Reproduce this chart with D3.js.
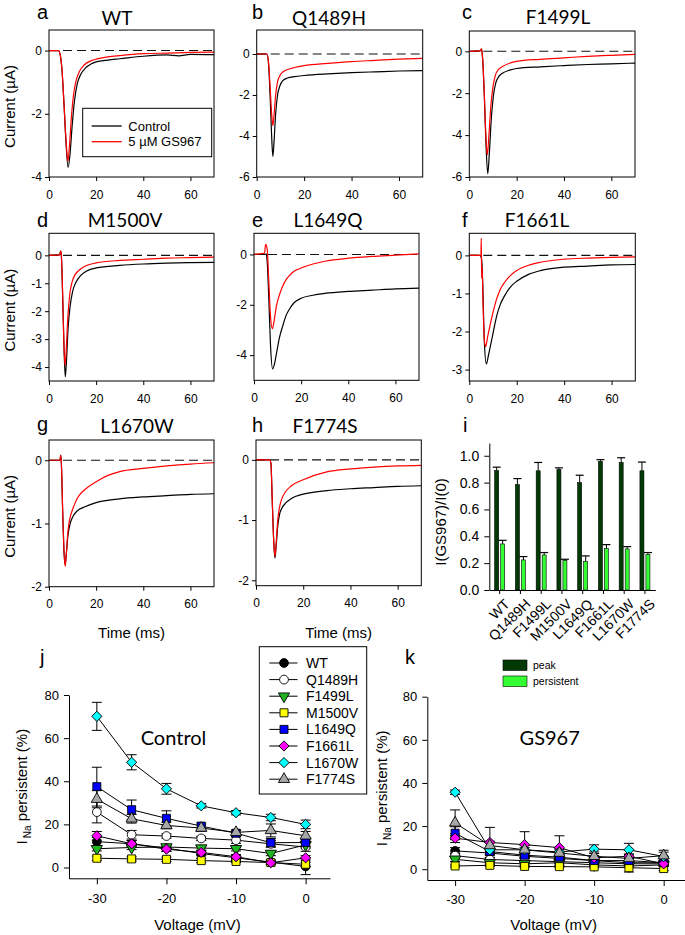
<!DOCTYPE html>
<html><head><meta charset="utf-8">
<script src="https://cdn.jsdelivr.net/npm/d3@7"></script>
<style>body{margin:0;background:#fff}svg{display:block}</style>
</head><body>
<svg id="fig" width="685" height="935"></svg>
<script>
// ---------------- DATA ----------------
const timeTicks = [0, 20, 40, 60];
// current traces [time ms, current µA]
const wtCtrl = [[0,0],[4,0],[4.8,-0.15],[5.5,-0.6],[6.3,-1.6],[7.2,-2.9],[8.1,-3.7],[8.9,-3.3],[9.8,-2.4],[10.8,-1.6],[12,-1.05],[13.5,-0.75],[15.5,-0.55],[18,-0.42],[20,-0.36],[25,-0.3],[30,-0.26],[40,-0.18],[50,-0.14],[55,-0.17],[60,-0.12],[70,-0.13]];
const wtGS = [[0,0],[4,0],[4.8,-0.15],[5.5,-0.6],[6.3,-1.6],[7.2,-2.8],[8,-3.5],[8.7,-3.0],[9.5,-2.1],[10.5,-1.35],[11.5,-0.95],[13,-0.65],[15,-0.45],[18,-0.32],[20,-0.27],[25,-0.2],[30,-0.16],[40,-0.1],[50,-0.08],[60,-0.06],[70,-0.05]];
const q1489hCtrl = [[0,0],[4.3,0],[5,-0.5],[5.7,-2.2],[6.3,-4.0],[6.8,-5.0],[7.3,-4.3],[8,-2.9],[8.8,-2.0],[9.8,-1.55],[11,-1.3],[13,-1.17],[16,-1.1],[20,-1.05],[30,-0.97],[40,-0.91],[50,-0.87],[60,-0.83],[70,-0.81]];
const q1489hGS = [[0,0],[4.3,0],[5,-0.4],[5.7,-1.7],[6.3,-2.9],[6.8,-3.5],[7.3,-3.0],[8,-2.0],[8.8,-1.35],[9.8,-1.05],[11,-0.88],[13,-0.76],[16,-0.66],[20,-0.57],[30,-0.46],[40,-0.37],[50,-0.31],[60,-0.25],[70,-0.21]];
const f1499lCtrl = [[0,0],[4.5,0.02],[5.2,0.1],[5.6,-0.3],[6.3,-2.0],[7.0,-4.3],[7.8,-5.85],[8.5,-4.8],[9.3,-3.2],[10.2,-2.1],[11.2,-1.5],[12.5,-1.2],[14,-1.05],[17,-0.9],[20,-0.82],[30,-0.74],[40,-0.68],[50,-0.63],[60,-0.6],[70,-0.56]];
const f1499lGS = [[0,0],[4.5,0.02],[5.2,0.12],[5.6,-0.3],[6.3,-1.9],[7.0,-4.0],[7.6,-4.95],[8.3,-4.0],[9.1,-2.6],[10.0,-1.7],[11.0,-1.15],[12.5,-0.85],[14,-0.73],[17,-0.57],[20,-0.48],[30,-0.38],[40,-0.31],[50,-0.24],[60,-0.19],[70,-0.15]];
const m1500vCtrl = [[0,0],[4.5,0.02],[5.0,0.15],[5.3,-0.1],[5.8,-1.5],[6.4,-3.4],[6.9,-4.35],[7.4,-3.8],[8.1,-2.6],[9,-1.8],[10,-1.3],[11.5,-0.95],[13.5,-0.72],[16,-0.56],[20,-0.45],[30,-0.36],[40,-0.31],[50,-0.28],[60,-0.26],[70,-0.25]];
const m1500vGS = [[0,0],[4.5,0.02],[5.0,0.15],[5.3,-0.1],[5.8,-1.4],[6.3,-3.1],[6.8,-3.95],[7.3,-3.4],[8.0,-2.2],[8.8,-1.4],[9.8,-0.95],[11,-0.7],[12.5,-0.55],[15,-0.4],[20,-0.27],[30,-0.18],[40,-0.14],[50,-0.1],[60,-0.08],[70,-0.06]];
const l1649qCtrl = [[0,0],[4.5,0],[5.2,0.02],[5.6,-0.3],[6.3,-1.8],[7.0,-3.6],[7.9,-4.55],[8.7,-4.35],[9.5,-3.95],[10.8,-3.3],[12.2,-2.84],[13.5,-2.45],[15,-2.18],[17,-1.92],[20,-1.74],[25,-1.62],[30,-1.55],[40,-1.47],[50,-1.42],[60,-1.37],[70,-1.34]];
const l1649qGS = [[0,0],[4.5,0.05],[4.9,0.4],[5.3,0.35],[5.7,0.1],[6.2,-0.9],[6.9,-2.3],[7.8,-2.95],[8.6,-2.6],[9.5,-2.05],[10.8,-1.6],[12.2,-1.25],[13.5,-1.02],[15,-0.84],[17,-0.67],[20,-0.54],[25,-0.38],[30,-0.27],[40,-0.15],[50,-0.08],[60,-0.03],[70,0.02]];
const f1661lCtrl = [[0,0],[4.5,0],[5.2,-0.1],[5.7,-0.8],[6.3,-2.2],[7.2,-2.85],[8.0,-2.65],[9,-2.35],[10,-2.05],[11.5,-1.6],[13,-1.3],[15,-1.05],[17.5,-0.82],[20,-0.68],[25,-0.5],[30,-0.4],[40,-0.31],[50,-0.28],[60,-0.25],[70,-0.24]];
const f1661lGS = [[0,0],[4.9,0],[5.05,0.45],[5.2,-0.6],[5.4,-0.3],[5.8,-1.3],[6.4,-2.25],[6.9,-2.4],[7.7,-2.15],[8.7,-1.85],[10,-1.5],[11.5,-1.15],[13,-0.9],[15,-0.7],[17.5,-0.52],[20,-0.4],[25,-0.26],[30,-0.18],[40,-0.1],[50,-0.07],[60,-0.05],[70,-0.04]];
const l1670wCtrl = [[0,0],[4.6,0],[5.0,0.08],[5.3,-0.1],[5.8,-0.8],[6.3,-1.4],[6.8,-1.65],[7.3,-1.5],[8,-1.2],[9,-1.0],[10,-0.9],[12,-0.8],[15,-0.74],[20,-0.67],[30,-0.61],[40,-0.58],[50,-0.56],[60,-0.54],[70,-0.53]];
const l1670wGS = [[0,0],[4.6,0],[5.0,0.08],[5.3,-0.1],[5.8,-0.8],[6.4,-1.45],[6.9,-1.68],[7.4,-1.45],[8.1,-1.1],[9,-0.9],[10,-0.78],[12,-0.6],[15,-0.47],[20,-0.34],[25,-0.24],[30,-0.18],[40,-0.13],[50,-0.09],[60,-0.06],[70,-0.04]];
const f1774sCtrl = [[0,0],[5.8,0],[6.3,-0.05],[6.9,-0.7],[7.5,-1.35],[8.0,-1.63],[8.5,-1.45],[9.2,-1.1],[10,-0.9],[11,-0.8],[12.5,-0.72],[15,-0.64],[20,-0.57],[30,-0.51],[40,-0.48],[50,-0.46],[60,-0.44],[70,-0.43]];
const f1774sGS = [[0,0],[5.8,0],[6.3,-0.05],[6.9,-0.7],[7.5,-1.35],[8.0,-1.6],[8.5,-1.4],[9.2,-1.0],[10,-0.78],[11,-0.64],[12.5,-0.53],[15,-0.43],[20,-0.33],[30,-0.2],[40,-0.15],[50,-0.12],[60,-0.1],[70,-0.09]];

// panel i
const mutants = ["WT","Q1489H","F1499L","M1500V","L1649Q","F1661L","L1670W","F1774S"];
const peakRatio = [0.89,0.785,0.888,0.898,0.80,0.958,0.95,0.888];
const peakErr = [0.025,0.045,0.062,0.012,0.055,0.013,0.035,0.065];
const persistRatio = [0.343,0.224,0.261,0.221,0.211,0.308,0.306,0.264];
const persistErr = [0.027,0.025,0.018,0.008,0.043,0.03,0.017,0.015];
const ratioTicks = [0,0.2,0.4,0.6,0.8,1.0];

// panels j, k
const voltages = [-30,-25,-20,-15,-10,-5,0];
const voltTicks = [-30,-20,-10,0];
const pctTicks = [0,20,40,60,80];
const ctrlWT = [12,11,9,6.5,4.5,2.5,0.5];          const ctrlWTErr = [2,1.5,1.5,1,1,1,3.8];
const ctrlQ1489H = [25.7,15.2,14.6,13.5,12.7,11,9.5]; const ctrlQ1489HErr = [5,2,1,1,1.5,1.5,2];
const ctrlF1499L = [8.7,9.3,9.5,9.0,8.7,6.5,10.5];  const ctrlF1499LErr = [1,1,1,1,1,1,1.5];
const ctrlM1500V = [4.3,4.0,3.8,3.2,2.8,2.3,1.5];   const ctrlM1500VErr = [1,1,1,1,0.5,0.5,1];
const ctrlL1649Q = [37.5,26.8,22.8,19.2,15.9,11.5,11.6]; const ctrlL1649QErr = [9,4.5,3.5,1.5,1.5,2,2];
const ctrlF1661L = [14.7,11,8.5,7,5,2.2,4.5];      const ctrlF1661LErr = [2,1.5,1,1,1,1,1];
const ctrlL1670W = [70.1,48.8,36.5,28.6,25.4,23.2,20]; const ctrlL1670WErr = [6.5,3.5,2.5,1,1,1.5,2];
const ctrlF1774S = [31.7,22.6,19.5,18.3,16.3,17.2,14.7]; const ctrlF1774SErr = [4,2,1.5,1.5,1,3,2];
const gsWT = [8.5,7.5,6,5,4,3,3];          const gsWTErr = [1.5,1,1,1,1,1,1];
const gsQ1489H = [6.3,4.5,4,3.5,3,2.5,2.5]; const gsQ1489HErr = [1,1,1,1,1,1,1];
const gsF1499L = [4.6,3,2.5,3,2,1.5,2];    const gsF1499LErr = [1,0.5,0.5,0.5,0.5,0.5,0.5];
const gsM1500V = [1.5,1.8,1.3,1.2,1.1,0.7,0.3]; const gsM1500VErr = [0.5,0.5,0.5,0.5,0.5,2,1];
const gsL1649Q = [16.7,8.2,6.5,5.6,4,4,3];  const gsL1649QErr = [3,1.5,1,1,1,1,1];
const gsF1661L = [14.4,12.4,11.4,10,5.3,6,2.5]; const gsF1661LErr = [2,7,6,5.5,1,1,1];
const gsL1670W = [35.7,9,9,8,9.3,9,5.9];    const gsL1670WErr = [1,1,1,1,2,3,2];
const gsF1774S = [21.5,11,9,7.5,6,5,6.3];   const gsF1774SErr = [6,2,2,2,2,2,2.5];

// ---------------- DRAWING ----------------
const svg = d3.select('#fig');
svg.append('rect').attr('width',685).attr('height',935).attr('fill','#fff');
const FONT = "'Liberation Sans', Arial, sans-serif";
const TFONT = "Lato, 'Open Sans', sans-serif";
const hy = d => String(d);

function styleAxis(a, size){
  a.select('.domain').attr('stroke','#000');
  a.selectAll('line').attr('stroke','#000');
  a.selectAll('text').attr('font-family',FONT).attr('font-size',size).attr('fill','#000');
}
function letter(x, y, t){
  svg.append('text').attr('x',x).attr('y',y).attr('font-family',FONT).attr('font-size',20).text(t);
}

const timePanels = [
  {L:'a', title:'WT', ctrl:wtCtrl, gs:wtGS, box:[49,30,214,177], yDom:[-4,0.65], ticks:[-4,-2,0], lx:37, ly:18.5, ty:25, tx:117, ylab:true},
  {L:'b', title:'Q1489H', ctrl:q1489hCtrl, gs:q1489hGS, box:[256.7,30,422.7,177], yDom:[-6,1.17], ticks:[-6,-4,-2,0], lx:252, ly:18.5, ty:25, tx:329},
  {L:'c', title:'F1499L', ctrl:f1499lCtrl, gs:f1499lGS, box:[469.3,31,635,177], yDom:[-6,0.97], ticks:[-6,-4,-2,0], lx:462, ly:18.5, ty:24, tx:558},
  {L:'d', title:'M1500V', ctrl:m1500vCtrl, gs:m1500vGS, box:[49,233.3,214,381], yDom:[-4.5,0.79], ticks:[-4,-3,-2,-1,0], lx:37, ly:226.5, ty:227, tx:125, ylab:true},
  {L:'e', title:'L1649Q', ctrl:l1649qCtrl, gs:l1649qGS, box:[254,233.3,419,380.3], yDom:[-5,0.84], ticks:[-4,-2,0], lx:252, ly:226.5, ty:227, tx:328},
  {L:'f', title:'F1661L', ctrl:f1661lCtrl, gs:f1661lGS, box:[469.3,233.3,635.3,381], yDom:[-3.3,0.58], ticks:[-3,-2,-1,0], lx:462, ly:226.5, ty:227, tx:537},
  {L:'g', title:'L1670W', ctrl:l1670wCtrl, gs:l1670wGS, box:[49,440,214,586.7], yDom:[-2,0.32], ticks:[-2,-1,0], lx:37, ly:431, ty:433, tx:137, ylab:true, xlab:true},
  {L:'h', title:'F1774S', ctrl:f1774sCtrl, gs:f1774sGS, box:[256,440,421.3,585.7], yDom:[-2.09,0.33], ticks:[-2,-1,0], lx:252, ly:432, ty:433, tx:325, xlab:true}
];

timePanels.forEach((p,i) => {
  const [x0,y0,x1,y1] = p.box;
  const x = d3.scaleLinear().domain([0,70]).range([x0,x1]);
  const y = d3.scaleLinear().domain(p.yDom).range([y1,y0]);
  const g = svg.append('g');
  const xa = g.append('g').attr('transform',`translate(0,${y1})`)
    .call(d3.axisBottom(x).tickValues(timeTicks).tickFormat(hy).tickSize(4).tickSizeOuter(0).tickPadding(9));
  const ya = g.append('g').attr('transform',`translate(${x0},0)`)
    .call(d3.axisLeft(y).tickValues(p.ticks).tickFormat(hy).tickSize(4).tickSizeOuter(0).tickPadding(3));
  styleAxis(xa,12); styleAxis(ya,12);
  xa.select('.domain').remove(); ya.select('.domain').remove();
  const cid = 'clip'+i;
  g.append('clipPath').attr('id',cid).append('rect').attr('x',x0).attr('y',y0).attr('width',x1-x0).attr('height',y1-y0);
  const pg = g.append('g').attr('clip-path',`url(#${cid})`);
  pg.append('line').attr('x1',x0).attr('x2',x1).attr('y1',y(0)).attr('y2',y(0))
    .attr('stroke','#111').attr('stroke-width',1.1).attr('stroke-dasharray','9,5');
  const line = d3.line().x(d=>x(d[0])).y(d=>y(d[1])).curve(d3.curveMonotoneX);
  pg.append('path').datum(p.ctrl).attr('d',line).attr('fill','none').attr('stroke','#000').attr('stroke-width',1.2);
  pg.append('path').datum(p.gs).attr('d',line).attr('fill','none').attr('stroke','#ff0000').attr('stroke-width',1.2);
  g.append('rect').attr('x',x0).attr('y',y0).attr('width',x1-x0).attr('height',y1-y0)
    .attr('fill','none').attr('stroke','#000').attr('stroke-width',1);
  g.append('text').attr('x',p.tx).attr('y',p.ty).attr('text-anchor','middle')
    .attr('font-family',TFONT).attr('font-size',19).text(p.title);
  letter(p.lx, p.ly, p.L);
  if (p.ylab) {
    g.append('text').attr('transform',`translate(15,${(y0+y1)/2+3}) rotate(-90)`).attr('text-anchor','middle')
      .attr('font-family',FONT).attr('font-size',15).text('Current (µA)');
  }
  if (p.xlab) {
    g.append('text').attr('x',(x0+x1)/2).attr('y',638).attr('text-anchor','middle')
      .attr('font-family',FONT).attr('font-size',15).text('Time (ms)');
  }
  if (p.L === 'a') {
    const lg = g.append('g');
    lg.append('rect').attr('x',82.7).attr('y',108.3).attr('width',129).attr('height',48.4)
      .attr('fill','#fff').attr('stroke','#000');
    [['Control','#000',126],['5 µM GS967','#ff0000',141.7]].forEach(r => {
      lg.append('line').attr('x1',91.7).attr('x2',121.7).attr('y1',r[2]).attr('y2',r[2]).attr('stroke',r[1]).attr('stroke-width',1.3);
      lg.append('text').attr('x',128.3).attr('y',r[2]+4.5).attr('font-family',FONT).attr('font-size',13).text(r[0]);
    });
  }
});

// ---------- panel i ----------
(function(){
  const xb = d3.scaleBand().domain(mutants).range([489.3,655.3]);
  const yb = d3.scaleLinear().domain([0,1.095]).range([590,443]);
  const g = svg.append('g');
  const ya = g.append('g').attr('transform','translate(489.3,0)')
    .call(d3.axisLeft(yb).tickValues(ratioTicks).tickFormat(d3.format('.1f')).tickSize(5).tickSizeOuter(0).tickPadding(5));
  styleAxis(ya,14);
  const xa = g.append('g').attr('transform','translate(0,590)')
    .call(d3.axisBottom(xb).tickSize(4).tickSizeOuter(0).tickFormat(''));
  styleAxis(xa,14);
  const bw = 4;
  mutants.forEach((m,i) => {
    const c = xb(m) + xb.bandwidth()/2;
    [[peakRatio[i],peakErr[i],c-5,'#013a05'],[persistRatio[i],persistErr[i],c+1,'#33ff33']].forEach(b => {
      const [v,e,bx,col] = b;
      g.append('line').attr('x1',bx+bw/2).attr('x2',bx+bw/2).attr('y1',yb(v)).attr('y2',yb(v+e)).attr('stroke','#000');
      g.append('line').attr('x1',bx+bw/2-4).attr('x2',bx+bw/2+4).attr('y1',yb(v+e)).attr('y2',yb(v+e)).attr('stroke','#000').attr('stroke-width',1.2);
      g.append('rect').attr('x',bx).attr('y',yb(v)).attr('width',bw).attr('height',yb(0)-yb(v))
        .attr('fill',col).attr('stroke','#000').attr('stroke-width',0.6);
    });
    g.append('text').attr('transform',`translate(${c+4},${598}) rotate(-45)`).attr('text-anchor','end')
      .attr('dy','0.7em').attr('font-family',FONT).attr('font-size',14).text(m);
  });
  g.append('text').attr('transform','translate(446,522) rotate(-90)').attr('text-anchor','middle')
    .attr('font-family',FONT).attr('font-size',15).text('I(GS967)/I(0)');
  letter(463, 432, 'i');
  // legend
  [['peak','#013a05',660],['persistent','#33ff33',676]].forEach(r => {
    g.append('rect').attr('x',503).attr('y',r[2]).attr('width',24).attr('height',10.5).attr('fill',r[1]).attr('stroke','#000').attr('stroke-width',0.6);
    g.append('text').attr('x',533).attr('y',r[2]+9).attr('font-family',FONT).attr('font-size',10.5).text(r[0]);
  });
})();

// ---------- panels j, k ----------
const markerStyles = [
  {type:'circle', fill:'#000'},
  {type:'circle', fill:'#fff'},
  {type:'triDown', fill:'#22b522'},
  {type:'square', fill:'#ffff00'},
  {type:'square', fill:'#0000ff'},
  {type:'diamond', fill:'#ff00ff'},
  {type:'diamond', fill:'#00ffff'},
  {type:'triUp', fill:'#a8a8a8'}
];
function drawMarker(g, st, cx, cy){
  let sym, rot = 0;
  if (st.type==='circle') { g.append('circle').attr('cx',cx).attr('cy',cy).attr('r',4.4).attr('fill',st.fill).attr('stroke','#000').attr('stroke-width',0.9); return; }
  if (st.type==='square') sym = d3.symbol(d3.symbolSquare,64);
  if (st.type==='diamond') { sym = d3.symbol(d3.symbolSquare,52); rot = 45; }
  if (st.type==='triDown') { sym = d3.symbol(d3.symbolTriangle,55); rot = 180; }
  if (st.type==='triUp') sym = d3.symbol(d3.symbolTriangle,55);
  g.append('path').attr('d',sym()).attr('transform',`translate(${cx},${cy}) rotate(${rot})`)
    .attr('fill',st.fill).attr('stroke','#000').attr('stroke-width',0.9);
}

const ctrlSeries = [ctrlWT,ctrlQ1489H,ctrlF1499L,ctrlM1500V,ctrlL1649Q,ctrlF1661L,ctrlL1670W,ctrlF1774S];
const ctrlErrs = [ctrlWTErr,ctrlQ1489HErr,ctrlF1499LErr,ctrlM1500VErr,ctrlL1649QErr,ctrlF1661LErr,ctrlL1670WErr,ctrlF1774SErr];
const gsSeries = [gsWT,gsQ1489H,gsF1499L,gsM1500V,gsL1649Q,gsF1661L,gsL1670W,gsF1774S];
const gsErrs = [gsWTErr,gsQ1489HErr,gsF1499LErr,gsM1500VErr,gsL1649QErr,gsF1661LErr,gsL1670WErr,gsF1774SErr];

function ivPanel(o){
  const x = d3.scaleLinear().domain([-34,3.5]).range([o.x0,o.x1]);
  const y = d3.scaleLinear().domain([-5,80]).range([o.yb,o.yt]);
  const g = svg.append('g');
  const xa = g.append('g').attr('transform',`translate(0,${o.yb})`)
    .call(d3.axisBottom(x).tickValues(voltTicks).tickFormat(hy).tickSize(6).tickSizeOuter(0).tickPadding(9));
  const ya = g.append('g').attr('transform',`translate(${o.x0},0)`)
    .call(d3.axisLeft(y).tickValues(pctTicks).tickFormat(hy).tickSize(5).tickSizeOuter(0).tickPadding(5));
  styleAxis(xa,13); styleAxis(ya,13);
  const line = d3.line().x((d,i)=>x(voltages[i])).y(d=>y(d));
  o.series.forEach((s,k) => {
    s.forEach((v,i) => {
      const e = o.errs[k][i], cx = x(voltages[i]);
      g.append('line').attr('x1',cx).attr('x2',cx).attr('y1',y(v-e)).attr('y2',y(v+e)).attr('stroke','#000');
      [v-e,v+e].forEach(w => g.append('line').attr('x1',cx-5).attr('x2',cx+5).attr('y1',y(w)).attr('y2',y(w)).attr('stroke','#000'));
    });
  });
  o.series.forEach(s => g.append('path').datum(s).attr('d',line).attr('fill','none').attr('stroke','#000').attr('stroke-width',1));
  o.series.forEach((s,k) => s.forEach((v,i) => drawMarker(g, markerStyles[k], x(voltages[i]), y(v))));
  g.append('text').attr('x',o.cx).attr('y',745).attr('text-anchor','middle').attr('font-family',TFONT).attr('font-size',20).text(o.label);
  g.append('text').attr('x',(o.x0+o.x1)/2 - (o.L==='k'?4:2)).attr('y',930).attr('text-anchor','middle').attr('font-family',FONT).attr('font-size',15).text('Voltage (mV)');
  const yl = g.append('text').attr('transform',`translate(${o.ylx},${(o.yb+o.yt)/2}) rotate(-90)`).attr('text-anchor','middle')
    .attr('font-family',FONT).attr('font-size',15);
  yl.append('tspan').text('I');
  yl.append('tspan').attr('dy',4).attr('dx',2).attr('font-size',10).text('Na');
  yl.append('tspan').attr('dy',-4).text(' persistent (%)');
  letter(o.lx, 664, o.L);
}
ivPanel({L:'j', label:'Control', series:ctrlSeries, errs:ctrlErrs, x0:69, x1:330, yb:878.3, yt:695, cx:173.5, ylx:27, lx:40});
ivPanel({L:'k', label:'GS967', series:gsSeries, errs:gsErrs, x0:427.3, x1:688, yb:880, yt:696.7, cx:549.7, ylx:387, lx:405});

// legend for j
(function(){
  const g = svg.append('g');
  g.append('rect').attr('x',259.3).attr('y',646.7).attr('width',107.4).attr('height',147.3).attr('fill','#fff').attr('stroke','#000');
  mutants.forEach((m,i) => {
    const yy = 663 + 16.6*i;
    g.append('line').attr('x1',269.3).attr('x2',297.5).attr('y1',yy).attr('y2',yy).attr('stroke','#000');
    drawMarker(g, markerStyles[i], 284, yy);
    g.append('text').attr('x',306).attr('y',yy+5).attr('font-family',FONT).attr('font-size',14).text(m);
  });
})();
</script>
</body></html>
